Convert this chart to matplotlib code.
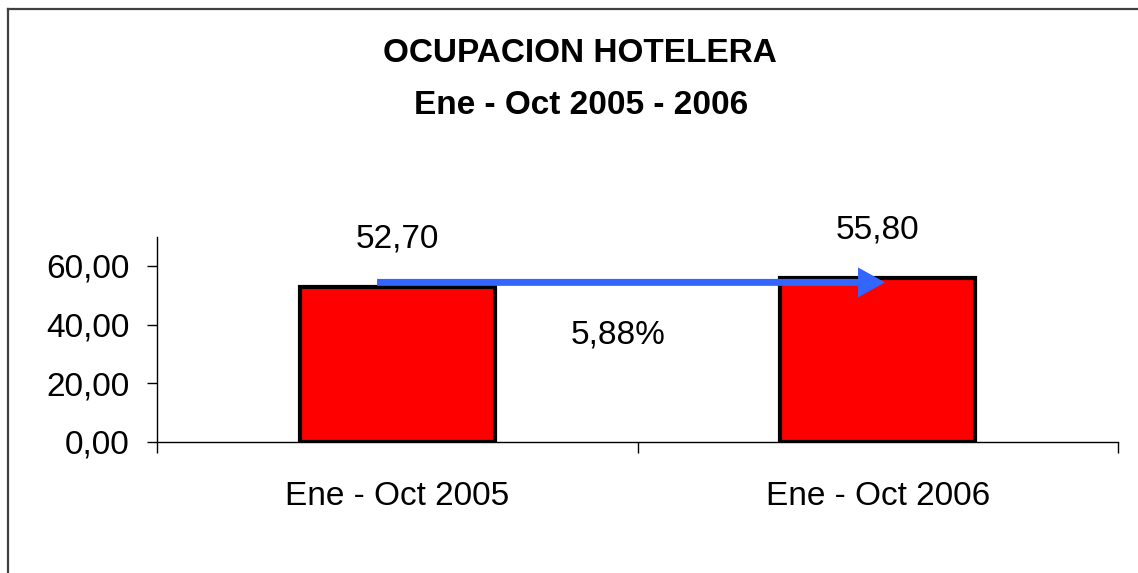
import matplotlib
matplotlib.use("Agg")
import matplotlib.pyplot as plt
from matplotlib.lines import Line2D

plt.rcParams['font.family'] = ['Liberation Sans', 'DejaVu Sans']

# data
categories = ['Ene - Oct 2005', 'Ene - Oct 2006']
values = [52.70, 55.80]
growth_label = '5,88%'
title_lines = ['OCUPACION HOTELERA', 'Ene - Oct 2005 - 2006']
yticks = [0, 20, 40, 60]

fig = plt.figure(figsize=(11.38, 5.73), dpi=100)
fig.patch.set_facecolor('white')

# outer frame (only top and left edges are visible in the crop)
fig.add_artist(Line2D([8 / 1138, 8 / 1138], [0, 1 - 9 / 573], transform=fig.transFigure,
                      color='#404040', lw=1.6))
fig.add_artist(Line2D([8 / 1138, 1], [1 - 9 / 573, 1 - 9 / 573], transform=fig.transFigure,
                      color='#404040', lw=1.6))

ax = fig.add_axes([157 / 1138, 131.3 / 573, 961 / 1138, 205 / 573])

xpos = [i + 0.5 for i in range(len(categories))]
ax.bar(xpos, values, width=0.405, color='#FF0000', edgecolor='black', linewidth=3, zorder=2)

ax.set_xlim(0, len(categories))
ax.set_ylim(0, 70)

ax.set_yticks(yticks)
ax.set_yticklabels([f'{v:.2f}'.replace('.', ',') for v in yticks])
ax.tick_params(axis='y', direction='out', length=7.5, width=1, pad=12, labelsize=24)

ax.set_xticks(xpos)
ax.set_xticklabels(categories)
ax.tick_params(axis='x', which='major', length=0, pad=28, labelsize=24)
ax.set_xticks(range(len(categories) + 1), minor=True)
ax.tick_params(axis='x', which='minor', direction='out', length=8, width=1)

for s in ['top', 'right']:
    ax.spines[s].set_visible(False)
for s in ['left', 'bottom']:
    ax.spines[s].set_linewidth(1)
    ax.spines[s].set_color('black')

# value labels
for x, v in zip(xpos, values):
    ax.annotate(f'{v:.2f}'.replace('.', ','), xy=(x, v), xytext=(0, 35),
                textcoords='offset points', ha='center', va='center', fontsize=24)

# growth arrow
ax.annotate('', xy=(1.515, 54.4), xytext=(0.458, 54.4),
            arrowprops=dict(arrowstyle='simple,head_length=19.4,head_width=21.6,tail_width=5',
                            mutation_scale=1, fc='#3366FF', ec='none', lw=0,
                            shrinkA=0, shrinkB=0), zorder=3)
ax.text(0.96, 36.6, growth_label, ha='center', va='center', fontsize=24)

# title
fig.text(580 / 1138, 1 - 53 / 573, title_lines[0], ha='center', va='center',
         fontsize=24, fontweight='bold')
fig.text(581 / 1138, 1 - 106 / 573, title_lines[1], ha='center', va='center',
         fontsize=24, fontweight='bold')

fig.savefig('out.png', dpi=100, facecolor='white')
